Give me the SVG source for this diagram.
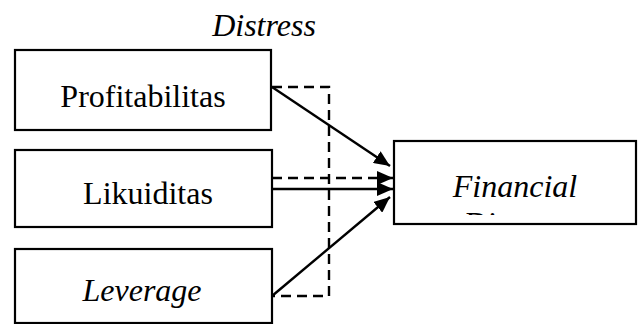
<svg xmlns="http://www.w3.org/2000/svg" width="640" height="324" viewBox="0 0 640 324">
  <style>
    .box { fill: #ffffff; stroke: #000000; stroke-width: 2.2; }
    .lbl { font-family: "Liberation Serif", "Times New Roman", serif; font-size: 32px; fill: #000000; text-anchor: middle; }
    .it { font-style: italic; }
    .solid { fill: none; stroke: #000000; stroke-width: 2.4; }
    .dash { fill: none; stroke: #000000; stroke-width: 2.4; stroke-dasharray: 10 6; }
  </style>
  <defs>
    <marker id="arrow" markerUnits="userSpaceOnUse" markerWidth="18" markerHeight="14" refX="16" refY="7" orient="auto">
      <path d="M0,0 L16,7 L0,14 Z" fill="#000000"/>
    </marker>
    <clipPath id="fd-clip">
      <rect x="395" y="142" width="240" height="73"/>
    </clipPath>
  </defs>
  <rect width="640" height="324" fill="#ffffff"/>

  <text class="lbl it" x="264" y="36">Distress</text>

  <g id="profitabilitas">
    <rect class="box" x="15" y="50" width="256" height="80"/>
    <text class="lbl" x="143" y="107">Profitabilitas</text>
  </g>

  <g id="likuiditas">
    <rect class="box" x="15" y="150" width="257" height="77"/>
    <text class="lbl" x="148" y="204">Likuiditas</text>
  </g>

  <g id="leverage">
    <rect class="box" x="15" y="249" width="257" height="74"/>
    <text class="lbl it" x="142" y="301">Leverage</text>
  </g>

  <g id="financial-distress">
    <rect class="box" x="394" y="141" width="242" height="83"/>
    <g clip-path="url(#fd-clip)">
      <text class="lbl it" x="515" y="197">Financial</text>
      <text class="lbl it" x="515" y="234">Distress</text>
    </g>
  </g>

  <g id="connectors">
    <path class="dash" d="M272,87 H329 V296 H272"/>
    <line class="dash" x1="272" y1="178" x2="393" y2="178" marker-end="url(#arrow)"/>
    <line class="solid" x1="272" y1="87" x2="390" y2="166" marker-end="url(#arrow)"/>
    <line class="solid" x1="272" y1="189" x2="393" y2="189" marker-end="url(#arrow)"/>
    <line class="solid" x1="272" y1="296" x2="390" y2="197" marker-end="url(#arrow)"/>
  </g>
</svg>
